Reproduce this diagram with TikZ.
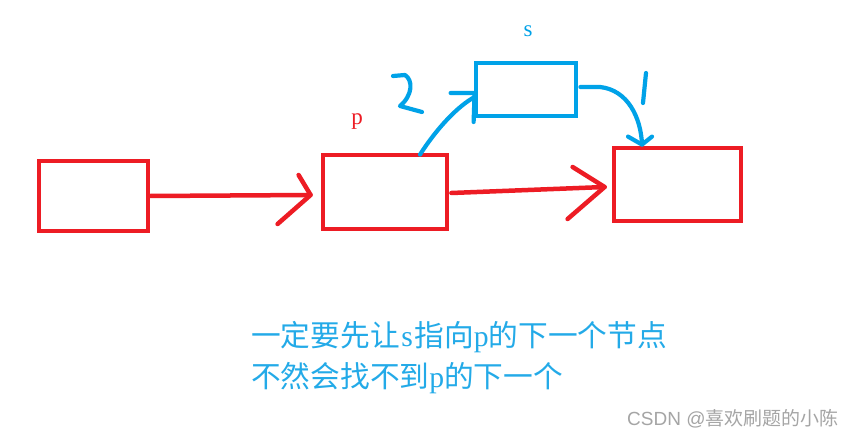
\documentclass[tikz,border=0pt]{standalone}
\usepackage{fontspec}
\setmainfont{Liberation Serif}
\newfontfamily\cjk{Noto Sans CJK SC}
\newfontfamily\wmsans{Liberation Sans}
\usetikzlibrary{calc}
\definecolor{pred}{RGB}{237,28,36}
\definecolor{pblue}{RGB}{0,162,232}
\definecolor{tblue}{RGB}{35,170,232}
\definecolor{wgray}{RGB}{165,165,165}
\newcommand{\hw}[1]{\makebox[0.5em]{#1}}
\tikzset{
  redbox/.style={draw=pred, line width=4.8pt, inner sep=0pt},
  bluebox/.style={draw=pblue, line width=4.8pt, inner sep=0pt},
  redline/.style={draw=pred, line width=4.5pt, line cap=round, line join=round},
  blueline/.style={draw=pblue, line width=4.2pt, line cap=round, line join=round},
  note/.style={text=tblue, font=\cjk\fontsize{29.7}{34}\selectfont, inner sep=0pt, anchor=west},
}
\begin{document}
\begin{tikzpicture}[x=1pt,y=-1pt]
\useasboundingbox[fill=white] (0,0) rectangle (854,438);
% boxes
\node[redbox, minimum width=109pt, minimum height=70pt] (A) at (93.5,196) {};
\node[redbox, minimum width=124pt, minimum height=74pt] (p) at (385,192) {};
\node[redbox, minimum width=127pt, minimum height=73pt] (R) at (677.5,184.5) {};
\node[bluebox, minimum width=100pt, minimum height=53pt] (s) at (526,89.5) {};
% labels
\node[text=pblue, font=\fontsize{23}{28}\selectfont, inner sep=0pt] (slab) at (528,31) {s};
\node[text=pred, font=\fontsize{23}{28}\selectfont, inner sep=0pt] (plab) at (357,122) {p};
% red arrow A -> p
\draw[redline] (A.east) -- ($(p.west)+(-10,3)$);
\draw[redline] ($(p.west)+(-22,-17)$) -- ($(p.west)+(-10,3)$) -- ($(p.west)+(-43,32)$);
% red arrow p -> R
\draw[redline] ($(p.east)+(2,1)$) -- ($(R.west)+(-7,2.5)$);
\draw[redline] ($(R.west)+(-39,-17.5)$) -- ($(R.west)+(-7,2.5)$) -- ($(R.west)+(-44,34.5)$);
% blue arrow 2: p -> s
\draw[blueline] ($(p.north)+(35,2)$) .. controls (437,128) and (458,106) .. ($(s.west)+(1,7.5)$);
\draw[blueline] ($(s.west)+(-23,3.5)$) -- ($(s.west)+(1,3.5)$) -- ($(s.west)+(0,32.5)$);
% blue arrow 1: s -> R
\draw[blueline] ($(s.east)+(2,-2.5)$) -- (600,87) .. controls (628,90) and (641,118) .. ($(R.north)+(-35.5,-1)$);
\draw[blueline] ($(R.north)+(-49.5,-9)$) -- ($(R.north)+(-35.5,-1)$) -- ($(R.north)+(-25.5,-9)$);
% hand drawn "2"
\draw[blueline] (393,76) -- (405,75) .. controls (413,80) and (413,95) .. (400,106) -- (422,112);
% hand drawn "1"
\draw[blueline] (646,73) -- (643,103);
% note text
\node[note] (l1) at (251,337) {一定要先让\hw{\rmfamily s}指向\hw{\rmfamily p}的下一个节点};
\node[note] (l2) at (251,378) {不然会找不到\hw{\rmfamily p}的下一个};
% watermark
\node[text=wgray, inner sep=0pt, anchor=west, font=\fontsize{19}{22}\selectfont] (wm) at (627,419) {\wmsans CSDN @\cjk 喜欢刷题的小陈};
\end{tikzpicture}
\end{document}
